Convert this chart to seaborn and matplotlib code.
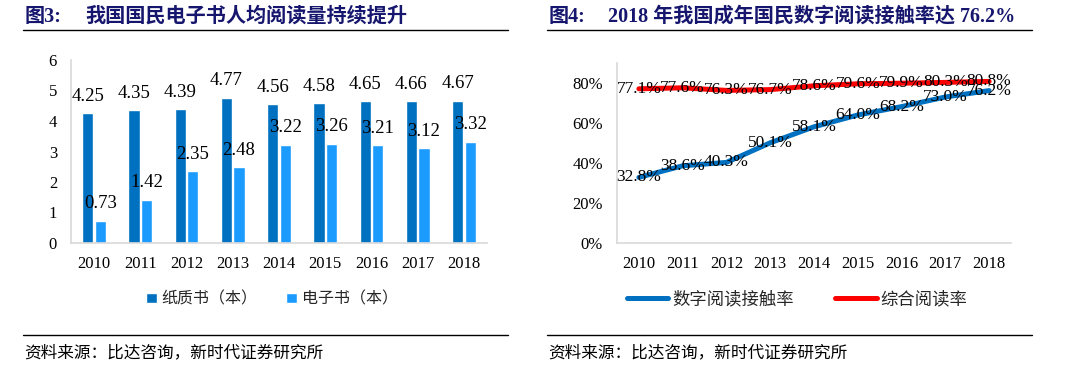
import matplotlib
matplotlib.use("Agg")
import matplotlib.pyplot as plt
import seaborn as sns
import pandas as pd
from matplotlib.lines import Line2D

# ---------------- data ----------------
years = ["2010", "2011", "2012", "2013", "2014", "2015", "2016", "2017", "2018"]
paper_books = [4.25, 4.35, 4.39, 4.77, 4.56, 4.58, 4.65, 4.66, 4.67]
ebooks = [0.73, 1.42, 2.35, 2.48, 3.22, 3.26, 3.21, 3.12, 3.32]
digital_rate = [32.8, 38.6, 40.3, 50.1, 58.1, 64.0, 68.2, 73.0, 76.2]
overall_rate = [77.1, 77.6, 76.3, 76.7, 78.6, 79.6, 79.9, 80.3, 80.8]
left_series = ["纸质书（本）", "电子书（本）"]
right_series = ["数字阅读接触率", "综合阅读率"]
left_yticks = [0, 1, 2, 3, 4, 5, 6]
right_yticks = [0, 20, 40, 60, 80]
title_left_no = "图3:"
title_left = "我国国民电子书人均阅读量持续提升"
title_right_no = "图4:"
title_right = "2018 年我国成年国民数字阅读接触率达 76.2%"
source_text = "资料来源：比达咨询，新时代证券研究所"

# ---------------- style ----------------
sns.set_theme(style="white")
plt.rcParams['font.family'] = ['Liberation Serif', 'Noto Sans CJK SC', 'DejaVu Sans']
SERIF = ['Liberation Serif', 'Noto Sans CJK SC']
CJK = ['Noto Sans CJK SC', 'DejaVu Sans']
DARK = "#0070C0"
LIGHT = "#1C9BFF"
RED = "#FF0000"
NAVY = "#16166E"
AXC = "#D9D9D9"

W, H = 1068, 386
fig = plt.figure(figsize=(W / 100, H / 100), dpi=100)

def fx(px):
    return px / W

def fy(py):
    return 1 - py / H

# ---------------- left chart ----------------
axL = fig.add_axes([fx(71), fy(243), fx(487) - fx(71), fy(60) - fy(243)])
dfL = pd.DataFrame({
    "year": years * 2,
    "value": paper_books + ebooks,
    "series": [left_series[0]] * len(years) + [left_series[1]] * len(years),
})
sns.barplot(data=dfL, x="year", y="value", hue="series", order=years,
            hue_order=left_series, palette=[DARK, LIGHT], width=0.54, gap=0.1,
            saturation=1, ax=axL, legend=True)
axL.set_xlim(-0.5, len(years) - 0.5)
axL.set_ylim(0, 6)
axL.set_yticks(left_yticks)
axL.set_yticklabels([str(v) for v in left_yticks])
for cont in axL.containers:
    axL.bar_label(cont, labels=[f"{v:.2f}" for v in cont.datavalues], padding=6,
                  fontsize=13.5, family=SERIF, color="#000000")
handlesL, labelsL = axL.get_legend_handles_labels()
axL.get_legend().remove()

# ---------------- right chart ----------------
axR = fig.add_axes([fx(617), fy(243), fx(1011) - fx(617), fy(63) - fy(243)])
dfR = pd.DataFrame({
    "year": list(range(len(years))) * 2,
    "value": [v / 100 for v in digital_rate] + [v / 100 for v in overall_rate],
    "series": [right_series[0]] * len(years) + [right_series[1]] * len(years),
})
sns.lineplot(data=dfR, x="year", y="value", hue="series", hue_order=right_series,
             palette=[DARK, RED], linewidth=3.6, ax=axR, legend=True)
for line in axR.get_lines():
    line.set_solid_capstyle("round")
axR.set_xlim(-0.5, len(years) - 0.5)
axR.set_ylim(0, 0.9)
axR.set_xticks(range(len(years)))
axR.set_xticklabels(years)
axR.set_yticks([v / 100 for v in right_yticks])
axR.set_yticklabels([f"{v}%" for v in right_yticks])
for i, v in enumerate(digital_rate):
    axR.text(i, v / 100, f"{v:.1f}%", ha="center", va="center", fontsize=12.5,
             family=SERIF, color="#000000")
for i, v in enumerate(overall_rate):
    axR.text(i, v / 100, f"{v:.1f}%", ha="center", va="center", fontsize=12.5,
             family=SERIF, color="#000000")
handlesR, labelsR = axR.get_legend_handles_labels()
axR.get_legend().remove()

# ---------------- axes cosmetics ----------------
for ax in (axL, axR):
    ax.set_xlabel("")
    ax.set_ylabel("")
    for s in ("top", "right"):
        ax.spines[s].set_visible(False)
    for s in ("left", "bottom"):
        ax.spines[s].set_visible(True)
        ax.spines[s].set_color(AXC)
        ax.spines[s].set_linewidth(1.2)
    ax.tick_params(axis="both", length=0, labelsize=12, colors="#000000")
    ax.tick_params(axis="x", pad=9)
    ax.tick_params(axis="y", pad=10)
    for lab in ax.get_xticklabels() + ax.get_yticklabels():
        lab.set_family(SERIF)
    ax.grid(False)
    ax.set_facecolor("white")

# ---------------- legends ----------------
legL = fig.legend(handlesL, labelsL, loc="center", bbox_to_anchor=(fx(272), fy(299)),
                  ncol=2, frameon=False, handlelength=0.65, handleheight=0.65,
                  handletextpad=0.3, columnspacing=1.8,
                  prop={"family": CJK, "size": 11.5})
legR = fig.legend(handlesR, labelsR, loc="center", bbox_to_anchor=(fx(797), fy(299)),
                  ncol=2, frameon=False, handlelength=2.4, handletextpad=0.2,
                  columnspacing=2.4, prop={"family": CJK, "size": 12.5})
for h in legR.get_lines():
    h.set_linewidth(3.6)

# ---------------- titles, rules, sources ----------------
for (x0, x1, no, title, tx) in [(23, 508, title_left_no, title_left, 85),
                               (547, 1032, title_right_no, title_right, 608)]:
    fig.text(fx(x0 + 2), fy(17), no, ha="left", va="center", fontsize=14.5,
             fontweight="bold", color=NAVY, family=SERIF)
    fig.text(fx(tx), fy(17), title, ha="left", va="center", fontsize=14.5,
             fontweight="bold", color=NAVY, family=SERIF)
    fig.add_artist(Line2D([fx(x0), fx(x1)], [fy(30), fy(30)], color="#000000",
                          linewidth=1.0, transform=fig.transFigure))
    fig.add_artist(Line2D([fx(x0), fx(x1)], [fy(335), fy(335)], color="#000000",
                          linewidth=1.0, transform=fig.transFigure))
    fig.text(fx(x0 + 1), fy(353), source_text, ha="left", va="center", fontsize=12,
             color="#000000", family=CJK)

fig.savefig("out.png", dpi=100, facecolor="white")
